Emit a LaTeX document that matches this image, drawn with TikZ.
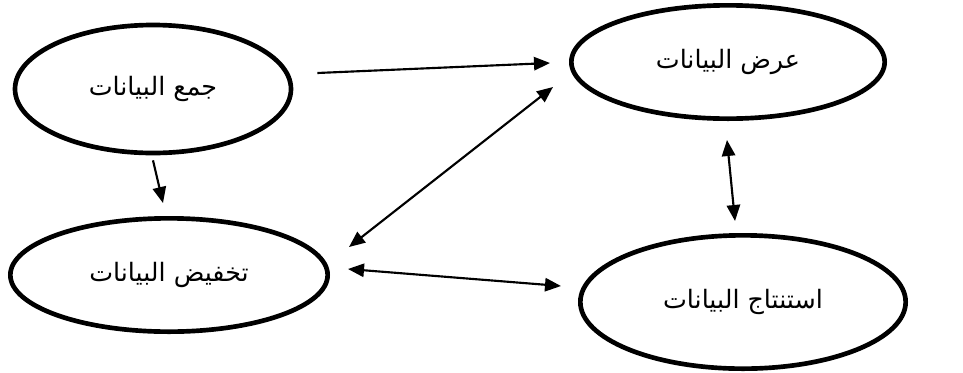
\documentclass[tikz,border=0pt]{standalone}
\usepackage{fontspec}
\newfontfamily\arabicfont[Script=Arabic]{DejaVu Sans}
\TeXXeTstate=1
\usepackage{tikz}
\usetikzlibrary{shapes, arrows.meta, positioning, calc}

\begin{document}
\begin{tikzpicture}[x=0.75pt, y=-0.75pt,
  stage/.style={ellipse, draw, line width=3.5pt, fill=white, inner sep=0pt,
    font=\arabicfont\fontsize{19}{22}\selectfont},
  link/.style={line width=1.6pt, -{Triangle[length=12pt, width=10pt]}},
  both/.style={line width=1.6pt, {Triangle[length=12pt, width=10pt]}-{Triangle[length=12pt, width=10pt]}}]
  \useasboundingbox (0, 0) rectangle (963, 372);

  \node[stage, minimum width=207pt, minimum height=96pt] (collect) at (153, 89) {\beginR جمع البيانات\endR};
  \node[stage, minimum width=235pt, minimum height=85pt] (display) at (728, 62) {\beginR عرض البيانات\endR};
  \node[stage, minimum width=238pt, minimum height=85pt] (reduce) at (169, 275) {\beginR تخفيض البيانات\endR};
  \node[stage, minimum width=244pt, minimum height=100pt] (conclude) at (743, 302) {\beginR استنتاج البيانات\endR};

  \draw[link] ($(collect.east)+(24, -16)$) -- ($(display.west)+(-19, 1)$);
  \draw[link] ($(collect.south)+(0, 5)$) -- ($(reduce.north)+(-6, -13)$);
  \draw[both] ($(display.west)+(-16, 25)$) -- ($(reduce.east)+(19, -28)$);
  \draw[both] ($(reduce.east)+(18, -6)$) -- ($(conclude.west)+(-17, -16)$);
  \draw[both] ($(display.south)+(-1, 19)$) -- ($(conclude.north)+(-8, -12)$);
\end{tikzpicture}
\end{document}
